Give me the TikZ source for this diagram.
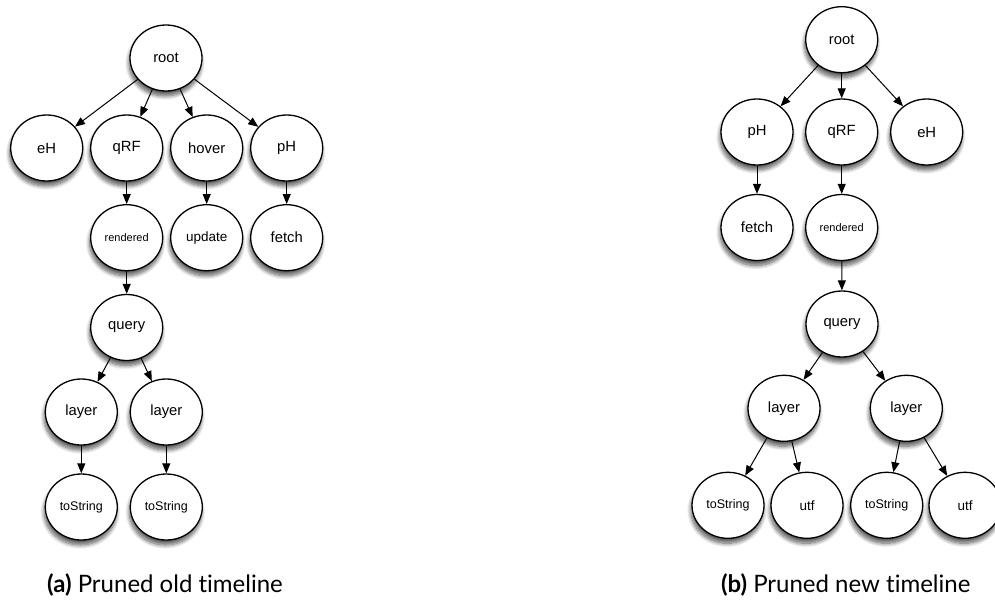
\documentclass[tikz,border=0pt]{standalone}
\usepackage{fontspec}
\setmainfont{Liberation Sans}
\newfontfamily\latofont[Ligatures=NoCommon]{Lato}
\usetikzlibrary{shapes.geometric,arrows.meta,shadows.blur}
\begin{document}
\begin{tikzpicture}[x=1pt,y=-1pt,
  tnode/.style={ellipse,draw=black,line width=1.3pt,fill=white,
    minimum width=72pt,minimum height=66pt,inner sep=0pt,
    font=\fontsize{14.8}{17}\selectfont,
    blur shadow={shadow xshift=-1pt,shadow yshift=-5pt,shadow blur radius=4pt,shadow blur steps=10,shadow opacity=65}},
  smalltxt/.style={font=\fontsize{11}{13}\selectfont},
  midtxt/.style={font=\fontsize{12.5}{15}\selectfont},
  updtxt/.style={font=\fontsize{13.5}{16}\selectfont},
  edge/.style={line width=1pt,-{Triangle[length=10pt,width=8pt]}},
  captext/.style={anchor=base,inner sep=0pt,font=\latofont\fontsize{24}{28}\selectfont}
]
\useasboundingbox (0,0) rectangle (995,600);
\clip (0,0) rectangle (995,600);

% ---------- left tree ----------
\node[tnode] (rootL) at (166,58) {root};
\node[tnode] (eHL) at (46.7,148) {eH};
\node[tnode] (qRFL) at (126.7,148) {qRF};
\node[tnode] (hoverL) at (206.7,148) {hover};
\node[tnode] (pHL) at (286.7,148) {pH};
\node[tnode,smalltxt] (rendL) at (126.7,237.7) {rendered};
\node[tnode,updtxt] (updL) at (206.7,237.7) {update};
\node[tnode] (fetchL) at (286.7,237.7) {fetch};
\node[tnode] (queryL) at (126.7,327.5) {query};
\node[tnode] (layL1) at (81.3,412) {layer};
\node[tnode] (layL2) at (166.3,412) {layer};
\node[tnode,midtxt] (tsL1) at (81.3,507) {toString};
\node[tnode,midtxt] (tsL2) at (166.3,507) {toString};

\draw[edge] (rootL) -- (eHL);
\draw[edge] (rootL) -- (qRFL);
\draw[edge] (rootL) -- (hoverL);
\draw[edge] (rootL) -- (pHL);
\draw[edge] (qRFL) -- (rendL);
\draw[edge] (hoverL) -- (updL);
\draw[edge] (pHL) -- (fetchL);
\draw[edge] (rendL) -- (queryL);
\draw[edge] (queryL) -- (layL1);
\draw[edge] (queryL) -- (layL2);
\draw[edge] (layL1) -- (tsL1);
\draw[edge] (layL2) -- (tsL2);

\node[captext] (capL) at (165,592.5) {\textbf{(a)} Pruned old timeline};

% ---------- right tree ----------
\node[tnode] (rootR) at (841.7,39.7) {root};
\node[tnode] (pHR) at (757,132) {pH};
\node[tnode] (qRFR) at (841.7,132) {qRF};
\node[tnode] (eHR) at (926.7,132) {eH};
\node[tnode] (fetchR) at (757,227.5) {fetch};
\node[tnode,smalltxt] (rendR) at (841.7,227.5) {rendered};
\node[tnode] (queryR) at (842,324) {query};
\node[tnode] (layR1) at (784,408.3) {layer};
\node[tnode] (layR2) at (906.3,408.3) {layer};
\node[tnode,midtxt] (tsR1) at (728,505.3) {toString};
\node[tnode,updtxt] (utfR1) at (807,505.3) {utf};
\node[tnode,midtxt] (tsR2) at (886.7,505.3) {toString};
\node[tnode,updtxt] (utfR2) at (965,505.3) {utf};

\draw[edge] (rootR) -- (pHR);
\draw[edge] (rootR) -- (qRFR);
\draw[edge] (rootR) -- (eHR);
\draw[edge] (pHR) -- (fetchR);
\draw[edge] (qRFR) -- (rendR);
\draw[edge] (rendR) -- (queryR);
\draw[edge] (queryR) -- (layR1);
\draw[edge] (queryR) -- (layR2);
\draw[edge] (layR1) -- (tsR1);
\draw[edge] (layR1) -- (utfR1);
\draw[edge] (layR2) -- (tsR2);
\draw[edge] (layR2) -- (utfR2);

\node[captext] (capR) at (845.7,592.5) {\textbf{(b)} Pruned new timeline};
\end{tikzpicture}
\end{document}
